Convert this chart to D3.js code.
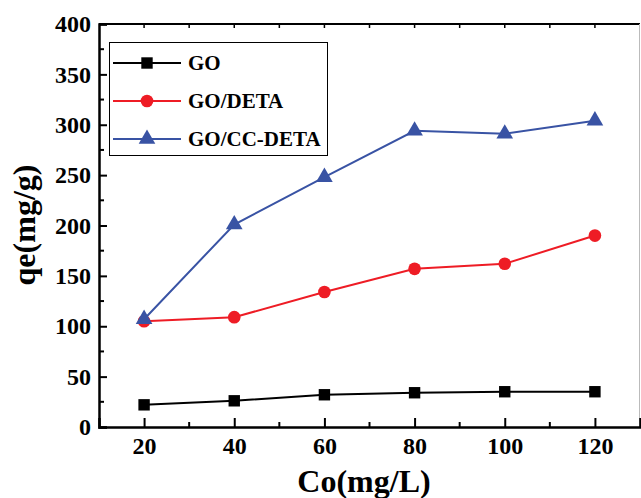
<!DOCTYPE html>
<html>
<head>
<meta charset="utf-8">
<script src="https://cdn.jsdelivr.net/npm/d3@7"></script>
<style>
  body { margin: 0; background: #fff; }
  svg { display: block; }
  text { font-family: "Liberation Serif", "Times New Roman", serif; font-weight: bold; }
</style>
</head>
<body>
<div id="chart"></div>
<script>
// data
const concentrations = [20, 40, 60, 80, 100, 120];
const goValues = [22, 26, 32, 34, 35, 35];
const goDetaValues = [105, 109, 134, 157, 162, 190];
const goCcDetaValues = [107, 201, 248, 294, 291, 304];
const seriesNames = ['GO', 'GO/DETA', 'GO/CC-DETA'];
const xTicks = [20, 40, 60, 80, 100, 120];
const yTicks = [0, 50, 100, 150, 200, 250, 300, 350, 400];

const width = 641, height = 498;
const margin = { left: 99, right: 1, top: 24, bottom: 71 };

const svg = d3.select('#chart').append('svg')
    .attr('width', width)
    .attr('height', height);

const x = d3.scaleLinear().domain([10, 130]).range([margin.left, width - margin.right]);
const y = d3.scaleLinear().domain([0, 400]).range([height - margin.bottom, margin.top]);

const series = [
    { name: seriesNames[0], values: goValues, color: '#000000', shape: 'square' },
    { name: seriesNames[1], values: goDetaValues, color: '#ee1c25', shape: 'circle' },
    { name: seriesNames[2], values: goCcDetaValues, color: '#3953a4', shape: 'triangle' }
];

function symbolFor(shape) {
    if (shape === 'square') return d3.symbol().type(d3.symbolSquare).size(130);
    if (shape === 'circle') return d3.symbol().type(d3.symbolCircle).size(125);
    return d3.symbol().type(d3.symbolTriangle).size(120);
}

// frame: top and right
svg.append('line')
    .attr('x1', x(10)).attr('x2', x(130))
    .attr('y1', y(400)).attr('y2', y(400))
    .attr('stroke', '#000').attr('stroke-width', 2);
svg.append('line')
    .attr('x1', x(130) - 0.5).attr('x2', x(130) - 0.5)
    .attr('y1', y(400)).attr('y2', y(0))
    .attr('stroke', '#bbb').attr('stroke-width', 1);

// top ticks (inward)
svg.append('g')
    .selectAll('line')
    .data(d3.range(20, 130, 10))
    .enter().append('line')
    .attr('x1', d => x(d)).attr('x2', d => x(d))
    .attr('y1', y(400)).attr('y2', y(400) + 4)
    .attr('stroke', '#000').attr('stroke-width', 1.5);

// bottom axis
const xAxis = svg.append('g')
    .attr('transform', `translate(0,${y(0)})`)
    .call(d3.axisBottom(x).tickValues(xTicks).tickSize(-9).tickPadding(10).tickFormat(d3.format('d')));
xAxis.select('.domain').attr('stroke-width', 2.5);
xAxis.selectAll('.tick line').attr('stroke-width', 2);
xAxis.selectAll('.tick text').attr('font-size', 24).attr('fill', '#000');
svg.append('g')
    .selectAll('line')
    .data(d3.range(30, 130, 20))
    .enter().append('line')
    .attr('x1', d => x(d)).attr('x2', d => x(d))
    .attr('y1', y(0)).attr('y2', y(0) - 5)
    .attr('stroke', '#000').attr('stroke-width', 2);

// left axis
const yAxis = svg.append('g')
    .attr('transform', `translate(${x(10)},0)`)
    .call(d3.axisLeft(y).tickValues(yTicks).tickSize(-8).tickPadding(8));
yAxis.select('.domain').attr('stroke-width', 2.5);
yAxis.selectAll('.tick line').attr('stroke-width', 2);
yAxis.selectAll('.tick text').attr('font-size', 24).attr('fill', '#000');
svg.append('g')
    .selectAll('line')
    .data(d3.range(25, 400, 50))
    .enter().append('line')
    .attr('x1', x(10)).attr('x2', x(10) + 5)
    .attr('y1', d => y(d)).attr('y2', d => y(d))
    .attr('stroke', '#000').attr('stroke-width', 2);

// axis titles
svg.append('text')
    .attr('x', 364).attr('y', 492)
    .attr('text-anchor', 'middle')
    .attr('font-size', 32)
    .text('Co(mg/L)');
svg.append('text')
    .attr('transform', 'translate(35,225) rotate(-90)')
    .attr('text-anchor', 'middle')
    .attr('font-size', 32)
    .text('qe(mg/g)');

// lines and markers
const line = d3.line()
    .x((d, i) => x(concentrations[i]))
    .y(d => y(d));

series.forEach(s => {
    svg.append('path')
        .datum(s.values)
        .attr('d', line)
        .attr('fill', 'none')
        .attr('stroke', s.color)
        .attr('stroke-width', 2);
    svg.append('g')
        .selectAll('path')
        .data(s.values)
        .enter().append('path')
        .attr('d', symbolFor(s.shape))
        .attr('transform', (d, i) => `translate(${x(concentrations[i])},${y(d)})`)
        .attr('fill', s.color);
});

// legend
const legend = svg.append('g');
legend.append('rect')
    .attr('x', 109.5).attr('y', 42.5)
    .attr('width', 218).attr('height', 113)
    .attr('fill', '#fff')
    .attr('stroke', '#000').attr('stroke-width', 1);
series.forEach((s, i) => {
    const ly = 63 + i * 38;
    legend.append('line')
        .attr('x1', 113).attr('x2', 181)
        .attr('y1', ly).attr('y2', ly)
        .attr('stroke', s.color).attr('stroke-width', 2);
    legend.append('path')
        .attr('d', symbolFor(s.shape))
        .attr('transform', `translate(147,${ly})`)
        .attr('fill', s.color);
    legend.append('text')
        .attr('x', 188).attr('y', ly + 7)
        .attr('font-size', 21)
        .text(s.name);
});
</script>
</body>
</html>
